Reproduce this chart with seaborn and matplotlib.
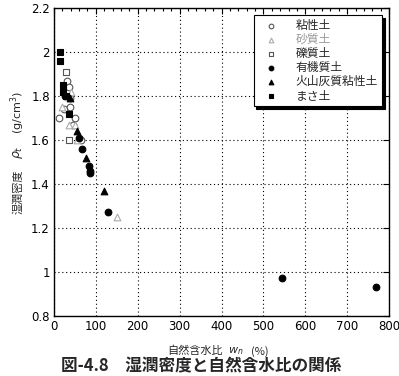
import matplotlib
matplotlib.use("Agg")
import matplotlib.pyplot as plt
import seaborn as sns
import pandas as pd
from matplotlib.ticker import MultipleLocator

sns.set_style("white")
plt.rcParams['font.family'] = ['Noto Sans CJK JP', 'DejaVu Sans']

# ---- data ----
categories = ["粘性土", "砂質土", "礫質土", "有機質土", "火山灰質粘性土", "まさ土"]

clay_x = [13, 24, 31, 37, 38, 39, 45, 51, 64]
clay_y = [1.70, 1.74, 1.87, 1.84, 1.79, 1.75, 1.67, 1.70, 1.60]

sand_x = [20, 35, 41, 50, 54, 150]
sand_y = [1.75, 1.67, 1.82, 1.67, 1.60, 1.25]

gravel_x = [29, 35]
gravel_y = [1.91, 1.60]

organic_x = [27, 60, 68, 84, 86, 87, 130, 544, 770]
organic_y = [1.80, 1.61, 1.56, 1.48, 1.46, 1.45, 1.27, 0.97, 0.93]

volcanic_x = [38, 54, 76, 119]
volcanic_y = [1.79, 1.64, 1.52, 1.37]

masa_x = [15, 15, 22, 22, 28, 36]
masa_y = [2.00, 1.96, 1.85, 1.82, 1.80, 1.72]

xticks = [0, 100, 200, 300, 400, 500, 600, 700, 800]
yticks = [0.8, 1.0, 1.2, 1.4, 1.6, 1.8, 2.0, 2.2]
ytick_labels = ["0.8", "1", "1.2", "1.4", "1.6", "1.8", "2", "2.2"]

frames = []
for name, xs, ys in zip(categories,
                        [clay_x, sand_x, gravel_x, organic_x, volcanic_x, masa_x],
                        [clay_y, sand_y, gravel_y, organic_y, volcanic_y, masa_y]):
    frames.append(pd.DataFrame({"w": xs, "rho": ys, "type": name}))
df = pd.concat(frames, ignore_index=True)

styles = {
    "粘性土": dict(marker="o", facecolor="white", edgecolor="#555555"),
    "砂質土": dict(marker="^", facecolor="white", edgecolor="#aaaaaa"),
    "礫質土": dict(marker="s", facecolor="white", edgecolor="#555555"),
    "有機質土": dict(marker="o", facecolor="black", edgecolor="black"),
    "火山灰質粘性土": dict(marker="^", facecolor="black", edgecolor="black"),
    "まさ土": dict(marker="s", facecolor="black", edgecolor="black"),
}

fig = plt.figure(figsize=(3.99, 3.76), dpi=100)
ax = fig.add_axes([0.1353, 0.160, 0.8397, 0.8187])

for name in categories:
    st = styles[name]
    sns.scatterplot(data=df[df["type"] == name], x="w", y="rho", ax=ax,
                    marker=st["marker"], facecolor=st["facecolor"],
                    edgecolor=st["edgecolor"], s=23, linewidth=0.8,
                    label=name, zorder=3)

ax.set_xlim(0, 800)
ax.set_ylim(0.8, 2.2)
ax.set_xticks(xticks)
ax.set_yticks(yticks)
ax.set_yticklabels(ytick_labels)
ax.xaxis.set_minor_locator(MultipleLocator(20))
ax.tick_params(axis="both", which="both", direction="in", top=True, right=True,
               labelsize=8.5, colors="black", pad=3)
ax.tick_params(which="major", length=4, width=0.8)
ax.tick_params(which="minor", length=2.5, width=0.8)
for lab in ax.get_xticklabels() + ax.get_yticklabels():
    lab.set_family(['DejaVu Sans'])
ax.grid(True, which="major", color="black", linestyle=(0, (1, 2.5)), linewidth=0.8)
for sp in ax.spines.values():
    sp.set_color("black")
    sp.set_linewidth(1.0)
ax.set_xlabel("")
ax.set_ylabel("")

leg = ax.legend(loc="upper right", bbox_to_anchor=(0.979, 0.977), borderaxespad=0,
                frameon=True, fancybox=False, edgecolor="black",
                shadow={"color": "black", "alpha": 1, "ox": 2, "oy": -2},
                fontsize=8.5, handletextpad=0.9, labelspacing=0.08, borderpad=0.35,
                handlelength=2.3, markerscale=0.7)
leg.get_frame().set_linewidth(0.8)
for t in leg.get_texts():
    if t.get_text() == "砂質土":
        t.set_color("#999999")

# axis labels
fig.text(0.045, 0.49, "湿潤密度", rotation=90, ha="center", va="center", fontsize=8)
fig.text(0.045, 0.595, r"$\rho_t$", rotation=90, ha="center", va="center", fontsize=9)
fig.text(0.045, 0.70, r"(g/cm$^3$)", rotation=90, ha="center", va="center", fontsize=8,
         family=['DejaVu Sans'])

fig.text(0.49, 0.066, "自然含水比", ha="center", va="center", fontsize=8)
fig.text(0.59, 0.066, r"$w_n$", ha="center", va="center", fontsize=8)
fig.text(0.65, 0.066, "(%)", ha="center", va="center", fontsize=8)

fig.text(0.503, 0.025, "図-4.8　湿潤密度と自然含水比の関係", ha="center", va="center",
         fontsize=12, fontweight="bold")

fig.savefig("out.png", dpi=100)
